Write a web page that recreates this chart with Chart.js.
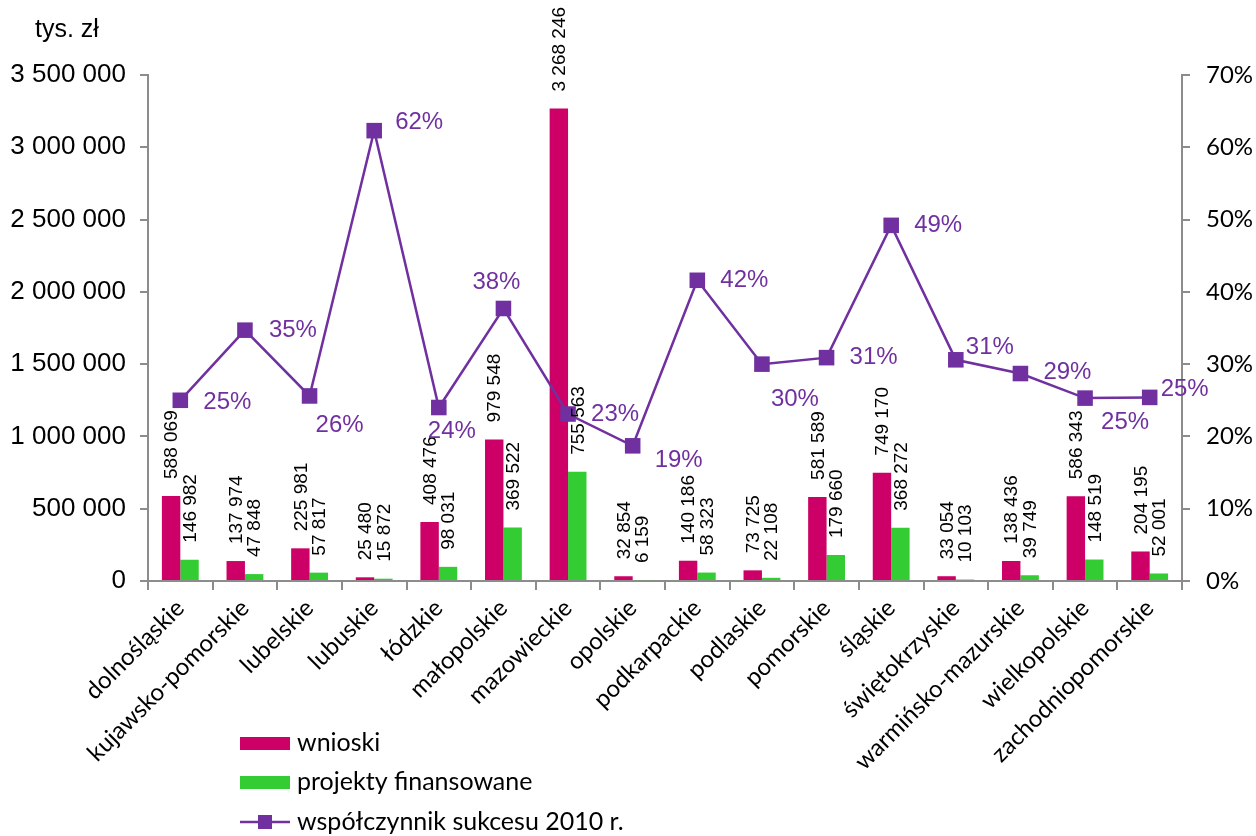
<!DOCTYPE html>
<html lang="pl">
<head>
<meta charset="utf-8">
<title>Wnioski i projekty finansowane wg województw</title>
<script src="https://cdn.jsdelivr.net/npm/chart.js@4.4.1/dist/chart.umd.min.js"></script>
<style>
  html, body { margin: 0; padding: 0; background: #fff; }
  #wrap { width: 1256px; height: 836px; position: relative; }
</style>
</head>
<body>
<div id="wrap"><canvas id="wykres"></canvas></div>
<script>
// dane
const wojewodztwa = ['dolnośląskie', 'kujawsko-pomorskie', 'lubelskie', 'lubuskie', 'łódzkie',
  'małopolskie', 'mazowieckie', 'opolskie', 'podkarpackie', 'podlaskie', 'pomorskie', 'śląskie',
  'świętokrzyskie', 'warmińsko-mazurskie', 'wielkopolskie', 'zachodniopomorskie'];
const wnioski = [588069, 137974, 225981, 25480, 408476, 979548, 3268246, 32854, 140186, 73725,
  581589, 749170, 33054, 138436, 586343, 204195];
const projekty = [146982, 47848, 57817, 15872, 98031, 369522, 755563, 6159, 58323, 22108,
  179660, 368272, 10103, 39749, 148519, 52001];
const wspolczynnik = [25.0, 34.7, 25.6, 62.3, 24.0, 37.7, 23.1, 18.7, 41.6, 30.0, 30.9, 49.2,
  30.6, 28.7, 25.3, 25.4];
const osLewaMax = 3500000;
const osPrawaMax = 70;

// przesunięcia etykiet procentowych względem punktów (dx, dy)
const przesuniecia = [[47, 2], [48, 0], [30, 29], [45, -8], [13, 24], [-7, -26], [47, 0], [46, 15],
  [47, 0], [33, 35], [47, 0], [47, 0], [34, -12], [47, -1], [40, 24], [35, -8]];

const kolWnioski = '#CC0066';
const kolProjekty = '#33CC33';
const kolLinia = '#7030A0';
const szary = '#8C8C8C';

function spacje(n) {
  return String(n).replace(/\B(?=(\d{3})+(?!\d))/g, ' ');
}

const etykietySlupkow = {
  id: 'etykietySlupkow',
  afterDatasetsDraw(chart) {
    const ctx = chart.ctx;
    [0, 1].forEach(function (i) {
      const meta = chart.getDatasetMeta(i);
      meta.data.forEach(function (bar, j) {
        ctx.save();
        ctx.translate(bar.x + 1, bar.y - 17);
        ctx.rotate(-Math.PI / 2);
        ctx.font = '19px "Liberation Sans", Arial, sans-serif';
        ctx.fillStyle = '#000';
        ctx.textAlign = 'left';
        ctx.textBaseline = 'middle';
        ctx.fillText(spacje(chart.data.datasets[i].data[j]), 0, 0);
        ctx.restore();
      });
    });
    // etykiety procentowe
    const metaL = chart.getDatasetMeta(2);
    ctx.save();
    ctx.font = '24px "Liberation Sans", Arial, sans-serif';
    ctx.fillStyle = kolLinia;
    ctx.textAlign = 'center';
    ctx.textBaseline = 'middle';
    metaL.data.forEach(function (pt, j) {
      const p = przesuniecia[j];
      ctx.fillText(Math.round(wspolczynnik[j]) + '%', pt.x + p[0], pt.y + p[1]);
    });
    ctx.restore();
  }
};

const dodatki = {
  id: 'dodatki',
  afterDraw(chart) {
    const ctx = chart.ctx;
    ctx.save();
    // jednostka osi
    ctx.font = '25px "Liberation Sans", Arial, sans-serif';
    ctx.fillStyle = '#000';
    ctx.textBaseline = 'middle';
    ctx.fillText('tys. zł', 35, 30);

    // legenda
    ctx.font = '25px Lato, sans-serif';
    const lx = 240, tx = 297;
    ctx.fillStyle = kolWnioski;
    ctx.fillRect(lx, 737, 50, 13);
    ctx.fillStyle = kolProjekty;
    ctx.fillRect(lx, 776, 50, 13);
    ctx.strokeStyle = kolLinia;
    ctx.lineWidth = 2.5;
    ctx.beginPath();
    ctx.moveTo(lx, 822);
    ctx.lineTo(lx + 50, 822);
    ctx.stroke();
    ctx.fillStyle = kolLinia;
    ctx.fillRect(lx + 18, 815, 14, 14);
    ctx.fillStyle = '#000';
    ctx.fillText('wnioski', tx, 743);
    ctx.fillText('projekty finansowane', tx, 782);
    ctx.fillText('współczynnik sukcesu 2010 r.', tx, 822);
    ctx.restore();
  }
};

const ctx = document.getElementById('wykres').getContext('2d');
const wykres = new Chart(ctx, {
  type: 'bar',
  data: {
    labels: wojewodztwa,
    datasets: [{
      label: 'wnioski',
      data: wnioski,
      backgroundColor: kolWnioski,
      yAxisID: 'y',
      order: 2,
      categoryPercentage: 0.57,
      barPercentage: 1
    }, {
      label: 'projekty finansowane',
      data: projekty,
      backgroundColor: kolProjekty,
      yAxisID: 'y',
      order: 2,
      categoryPercentage: 0.57,
      barPercentage: 1
    }, {
      type: 'line',
      label: 'współczynnik sukcesu 2010 r.',
      data: wspolczynnik,
      yAxisID: 'y1',
      order: 1,
      borderColor: kolLinia,
      backgroundColor: kolLinia,
      borderWidth: 2.5,
      pointStyle: 'rect',
      pointRadius: 11,
      pointBorderWidth: 0,
      tension: 0
    }]
  },
  options: {
    responsive: true,
    maintainAspectRatio: false,
    animation: false,
    layout: { padding: { top: 75, left: 0, right: 0, bottom: 0 } },
    plugins: {
      legend: { display: false },
      tooltip: { enabled: false }
    },
    scales: {
      x: {
        offset: true,
        grid: { offset: true, drawOnChartArea: false, color: szary, lineWidth: 2, tickLength: 9 },
        border: { color: szary, width: 2 },
        ticks: {
          autoSkip: false,
          maxRotation: 45,
          minRotation: 45,
          color: '#000',
          padding: 4,
          font: { family: 'Lato', size: 24 }
        },
        afterFit(s) { s.height = 255; }
      },
      y: {
        position: 'left',
        min: 0,
        max: osLewaMax,
        grid: { drawOnChartArea: false, color: szary, lineWidth: 2, tickLength: 8 },
        border: { color: szary, width: 2 },
        ticks: {
          stepSize: 500000,
          color: '#000',
          padding: 14,
          font: { family: 'Liberation Sans', size: 26 },
          callback: function (v) { return spacje(v); }
        },
        afterFit(s) { s.width = 148; }
      },
      y1: {
        position: 'right',
        min: 0,
        max: osPrawaMax,
        grid: { drawOnChartArea: false, color: szary, lineWidth: 2, tickLength: 8 },
        border: { color: szary, width: 2 },
        ticks: {
          stepSize: 10,
          color: '#000',
          padding: 16,
          font: { family: 'Lato', size: 24 },
          callback: function (v) { return v + '%'; }
        },
        afterFit(s) { s.width = 74; }
      }
    }
  },
  plugins: [etykietySlupkow, dodatki]
});
</script>
</body>
</html>
